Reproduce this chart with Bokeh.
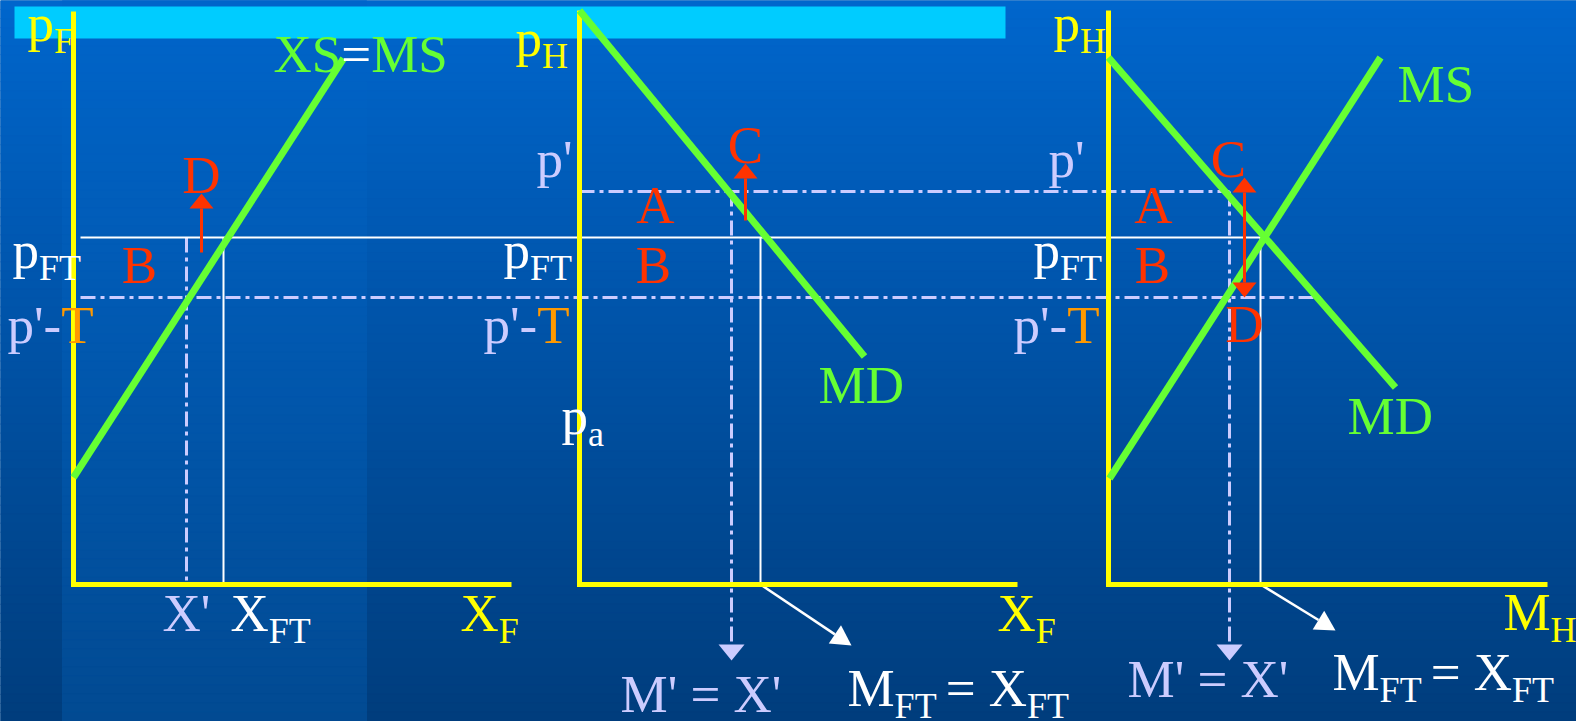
import numpy as np
from bokeh.plotting import figure
from bokeh.models import Range1d
from bokeh.core.properties import value
from bokeh.embed import file_html
from bokeh.resources import INLINE

# ---------------- diagram data (screen-pixel coordinates, y grows downward) ----------------
price_prime = 191            # p'
price_ft = 237               # p_FT
price_prime_minus_t = 297    # p' - T
axis_top = [11, 10, 10]
axis_bottom = 584
panel_x0 = [73, 579, 1108]
panel_x1 = [511, 1017, 1547]
x_prime = [186, 731, 1229]   # X' / M'
x_ft = [223, 760, 1260]      # X_FT / M_FT

ms_foreign_x = [73, 343]
ms_foreign_y = [477, 58]
md_home_x = [579, 864]
md_home_y = [10, 356]
md_world_x = [1108, 1395]
md_world_y = [57, 387]
ms_world_x = [1109, 1380]
ms_world_y = [478, 57]

# ---------------- styles ----------------
YEL = "#ffff00"
GRN = "#66ff33"
RED = "#ff3300"
WHT = "#ffffff"
LBL = "#ccccff"
ORG = "#ff9900"
CYA = "#00ccff"
FONT = "Liberation Serif"
MAIN = 53
SUB = 36
DASHDOT = "15 5 4 5"
BASE_FIX = 0.34   # renderer places alphabetic baseline ~0.3em low; compensate

W, H = 1576, 721
p = figure(width=W, height=H, x_range=Range1d(0, W), y_range=Range1d(H, 0),
           output_backend="svg", toolbar_location=None, min_border=0,
           x_axis_location=None, y_axis_location=None)
p.grid.visible = False
p.outline_line_color = None
p.background_fill_color = "#00509f"
p.border_fill_color = "#00509f"

# background gradient
n = 80
edges = np.linspace(0, H, n + 1)
t = (np.arange(n) + 0.5) / n
top_c = np.array([0, 102, 204])
bot_c = np.array([0, 61, 125])
cols = ["#%02x%02x%02x" % tuple(np.round(top_c + (bot_c - top_c) * f).astype(int)) for f in t]
p.quad(left=0, right=W, top=edges[:-1], bottom=edges[1:], color=cols, line_color=cols)
# lighter band on the left
band_top = np.array([0, 101, 202])
band_bot = np.array([2, 74, 146])
bcols = ["#%02x%02x%02x" % tuple(np.round(band_top + (band_bot - band_top) * f).astype(int)) for f in t]
p.quad(left=62, right=366, top=edges[:-1], bottom=edges[1:], color=bcols, line_color=bcols)

# cyan title bar
p.quad(left=14, right=1005, top=6, bottom=38, color=CYA, line_color=None)

# dash-dot guide lines
p.segment(x0=[80, panel_x0[1]], y0=[price_prime_minus_t, price_prime],
          x1=[1320, x_prime[2]], y1=[price_prime_minus_t, price_prime],
          line_color=LBL, line_width=3, line_dash=DASHDOT)
p.segment(x0=[x_prime[0], x_prime[1], x_prime[2]], y0=[price_ft, price_prime, price_prime],
          x1=[x_prime[0], x_prime[1], x_prime[2]], y1=[axis_bottom, 644, 644],
          line_color=LBL, line_width=3, line_dash=DASHDOT)

# white free-trade lines
p.segment(x0=[80] + x_ft, y0=[price_ft] * 4, x1=[x_ft[2]] + x_ft,
          y1=[price_ft] + [axis_bottom] * 3, line_color=WHT, line_width=2)


def head(tx, ty, dx, dy, length, width):
    nn = np.hypot(dx, dy)
    ux, uy = dx / nn, dy / nn
    bx, by = tx - ux * length, ty - uy * length
    px, py = -uy, ux
    return ([tx, bx + px * width / 2, bx - px * width / 2],
            [ty, by + py * width / 2, by - py * width / 2]), (bx, by)


# white arrows from X_FT down to the labels
for (sx, sy, ex, ey) in [(x_ft[1], axis_bottom, 851, 645), (x_ft[2], axis_bottom, 1335, 630)]:
    (hx, hy), (bx, by) = head(ex, ey, ex - sx, ey - sy, 20, 22)
    p.segment(x0=[sx], y0=[sy], x1=[bx], y1=[by], line_color=WHT, line_width=2.5)
    p.patch(hx, hy, color=WHT, line_color=None)

# light-blue arrowheads on M' lines
for xx in x_prime[1:]:
    (hx, hy), _ = head(xx, 660, 0, 1, 16, 26)
    p.patch(hx, hy, color=LBL, line_color=None)

# yellow axes
for i in range(3):
    p.line([panel_x0[i], panel_x0[i], panel_x1[i]], [axis_top[i], axis_bottom, axis_bottom],
           line_color=YEL, line_width=5, line_join="miter")

# green supply / demand curves
for cx, cy in [(ms_foreign_x, ms_foreign_y), (md_home_x, md_home_y),
               (md_world_x, md_world_y), (ms_world_x, ms_world_y)]:
    p.line(cx, cy, line_color=GRN, line_width=7, line_cap="butt")

# red arrows
red_arrows = [  # (x, tail_y, tip_y)
    (201, 252, 193),
    (745, 220, 163),
]
for ax, ty, hy_tip in red_arrows:
    (hx, hy), (bx, by) = head(ax, hy_tip, 0, -1, 15, 24)
    p.segment(x0=[ax], y0=[ty], x1=[ax], y1=[by], line_color=RED, line_width=3)
    p.patch(hx, hy, color=RED, line_color=None)
(hx1, hy1), (_, b1) = head(1244, 177, 0, -1, 15, 24)
(hx2, hy2), (_, b2) = head(1244, 297, 0, 1, 15, 24)
p.segment(x0=[1244], y0=[b1], x1=[1244], y1=[b2], line_color=RED, line_width=3)
p.patch(hx1, hy1, color=RED, line_color=None)
p.patch(hx2, hy2, color=RED, line_color=None)

# ---------------- text ----------------
WID = {'p': 0.5, 'F': 0.556, 'T': 0.611, 'H': 0.722, 'X': 0.722, 'S': 0.556, 'M': 0.889,
       '=': 0.564, "'": 0.180, '-': 0.333, ' ': 0.25, 'a': 0.444, 'D': 0.722}


def label(x, y, runs):
    for txt, col, kind in runs:
        size = MAIN if kind == 'm' else SUB
        yy = (y if kind == 'm' else y + 12) - BASE_FIX * size
        p.text(x=[x], y=[yy], text=[txt], text_color=col, text_font=value(FONT),
               text_font_size=value(f"{size}px"), text_baseline="alphabetic", text_align="left")
        x += sum(WID.get(c, 0.5) for c in txt) * size


labels = [
    # panel 1
    (27, 41, [("p", YEL, 'm'), ("F", YEL, 's')]),
    (273, 72, [("XS", GRN, 'm'), ("=", WHT, 'm'), ("MS", GRN, 'm')]),
    (12, 268, [("p", WHT, 'm'), ("FT", WHT, 's')]),
    (7, 343, [("p'-", LBL, 'm'), ("T", ORG, 'm')]),
    (162, 631, [("X'", LBL, 'm')]),
    (230, 631, [("X", WHT, 'm'), ("FT", WHT, 's')]),
    (460, 631, [("X", YEL, 'm'), ("F", YEL, 's')]),
    # panel 2
    (515, 56, [("p", YEL, 'm'), ("H", YEL, 's')]),
    (536, 177, [("p'", LBL, 'm')]),
    (503, 268, [("p", WHT, 'm'), ("FT", WHT, 's')]),
    (483, 343, [("p'-", LBL, 'm'), ("T", ORG, 'm')]),
    (561, 434, [("p", WHT, 'm'), ("a", WHT, 's')]),
    (818, 403, [("MD", GRN, 'm')]),
    (997, 631, [("X", YEL, 'm'), ("F", YEL, 's')]),
    (620, 712, [("M' = X'", LBL, 'm')]),
    (847, 706, [("M", WHT, 'm'), ("FT ", WHT, 's'), ("= X", WHT, 'm'), ("FT", WHT, 's')]),
    # panel 3
    (1053, 41, [("p", YEL, 'm'), ("H", YEL, 's')]),
    (1397, 102, [("MS", GRN, 'm')]),
    (1048, 177, [("p'", LBL, 'm')]),
    (1033, 268, [("p", WHT, 'm'), ("FT", WHT, 's')]),
    (1013, 343, [("p'-", LBL, 'm'), ("T", ORG, 'm')]),
    (1347, 434, [("MD", GRN, 'm')]),
    (1503, 630, [("M", YEL, 'm'), ("H", YEL, 's')]),
    (1127, 697, [("M' = X'", LBL, 'm')]),
    (1332, 690, [("M", WHT, 'm'), ("FT ", WHT, 's'), ("= X", WHT, 'm'), ("FT", WHT, 's')]),
]
for lx, ly, runs in labels:
    label(lx, ly, runs)

red_letters = ["D", "B", "C", "A", "B", "C", "A", "B", "D"]
red_x = [201, 139, 745, 655, 653, 1228, 1153, 1152, 1244]
red_y = [193, 283, 163, 223, 283, 177, 223, 283, 342]
p.text(x=red_x, y=[v - BASE_FIX * MAIN for v in red_y], text=red_letters, text_color=RED,
       text_font=value(FONT), text_font_size=value(f"{MAIN}px"),
       text_baseline="alphabetic", text_align="center")

html = file_html(p, INLINE, title="Tariff diagram")
open("out.html", "w").write(html)
